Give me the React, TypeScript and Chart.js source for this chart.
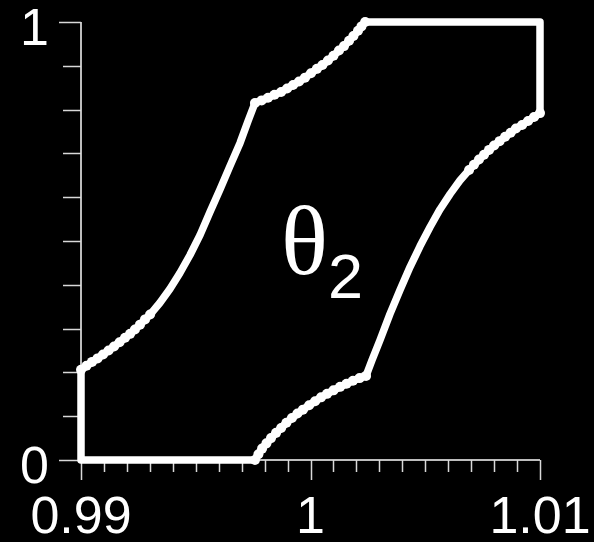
import { useEffect, useRef } from 'react';
import { Chart, registerables } from 'chart.js';

Chart.register(...registerables);

// Axis ranges and ticks
const xMin = 0.99;
const xMax = 1.01;
const yMin = 0;
const yMax = 1;
const xMajorTicks = [0.99, 1, 1.01];
const xTickLabels = ['0.99', '1', '1.01'];
const xMinorStep = 0.001;
const yMajorTicks = [0, 1];
const yTickLabels = ['0', '1'];
const yMinorStep = 0.1;

// Region boundary, traced counter-clockwise from the origin corner
const originX = [0.99];
const originY = [0];

// lower-left flank, densely sampled (beaded)
const lowerLeftX = [0.99, 0.99024, 0.99048, 0.99072, 0.99096, 0.9912, 0.99144, 0.99168, 0.99192, 0.99214, 0.99235, 0.99257, 0.99279, 0.99301];
const lowerLeftY = [0.206, 0.215, 0.224, 0.232, 0.241, 0.25, 0.259, 0.269, 0.279, 0.288, 0.298, 0.309, 0.321, 0.332];

// steep left flank
const leftFlankX = [0.99301, 0.99344, 0.99388, 0.99431, 0.99475, 0.99519, 0.99562, 0.99606, 0.99649, 0.99693, 0.99728, 0.99758];
const leftFlankY = [0.332, 0.359, 0.391, 0.427, 0.468, 0.514, 0.566, 0.618, 0.671, 0.724, 0.774, 0.815];

// upper-left shoulder (beaded)
const upperLeftX = [0.99758, 0.99787, 0.99815, 0.99843, 0.99872, 0.99898, 0.99924, 0.9995, 0.99976, 1.00002, 1.00028, 1.00052, 1.00076, 1.001, 1.00124, 1.00146, 1.00168, 1.00187, 1.00207, 1.00222, 1.00238];
const upperLeftY = [0.815, 0.821, 0.827, 0.834, 0.84, 0.848, 0.856, 0.864, 0.873, 0.883, 0.893, 0.902, 0.912, 0.923, 0.935, 0.945, 0.957, 0.968, 0.98, 0.99, 1];

const topRightX = [1.01];
const topRightY = [1];

// upper-right flank (beaded)
const upperRightX = [1.01, 1.00974, 1.00948, 1.00922, 1.00895, 1.00872, 1.00848, 1.00824, 1.008, 1.00778, 1.00756, 1.00734, 1.00712, 1.00691];
const upperRightY = [0.792, 0.783, 0.774, 0.765, 0.757, 0.747, 0.738, 0.728, 0.718, 0.708, 0.697, 0.686, 0.674, 0.662];

// steep right flank
const rightFlankX = [1.00691, 1.00651, 1.00608, 1.00564, 1.00521, 1.00477, 1.00434, 1.0039, 1.00346, 1.00303, 1.00268, 1.00242];
const rightFlankY = [0.662, 0.638, 0.607, 0.572, 0.532, 0.488, 0.441, 0.388, 0.333, 0.274, 0.228, 0.192];

// lower-right shoulder (beaded)
const lowerRightX = [1.00242, 1.00214, 1.00185, 1.00157, 1.00129, 1.001, 1.00072, 1.00046, 1.0002, 0.99994, 0.99967, 0.99943, 0.99919, 0.99895, 0.99872, 0.9985, 0.99828, 0.99808, 0.99789, 0.99773, 0.99758];
const lowerRightY = [0.192, 0.187, 0.181, 0.174, 0.167, 0.159, 0.151, 0.143, 0.134, 0.125, 0.115, 0.106, 0.096, 0.085, 0.073, 0.062, 0.05, 0.038, 0.026, 0.013, 0];

const regionLabel = '\u03B8';
const regionSubscript = '2';
const regionLabelX = 0.99872;
const regionLabelY = 0.424;

type Pt = { x: number; y: number };
const toPoints = (xs: number[], ys: number[]): Pt[] => xs.map((x, i) => ({ x, y: ys[i] }));

const WIDTH = 594;
const HEIGHT = 542;
const FONT = '"Liberation Sans", Arial, sans-serif';

const axesPlugin = {
  id: 'boxAxes',
  beforeDraw(chart: Chart) {
    const ctx = chart.ctx;
    ctx.save();
    ctx.fillStyle = '#000';
    ctx.fillRect(0, 0, chart.width, chart.height);
    ctx.restore();
  },
  beforeDatasetsDraw(chart: Chart) {
    const ctx = chart.ctx;
    const xs = chart.scales.x;
    const ys = chart.scales.y;
    const { left, right, top, bottom } = chart.chartArea;
    ctx.save();
    // axis lines
    ctx.strokeStyle = '#bdbdbd';
    ctx.lineWidth = 2;
    ctx.beginPath();
    ctx.moveTo(left, top);
    ctx.lineTo(left, bottom);
    ctx.lineTo(right, bottom);
    ctx.stroke();

    // x ticks (minor every 0.001, majors longer)
    ctx.strokeStyle = '#d8d8d8';
    ctx.lineWidth = 1.5;
    const nx = Math.round((xMax - xMin) / xMinorStep);
    for (let i = 0; i <= nx; i++) {
      const v = xMin + i * xMinorStep;
      const isMajor = xMajorTicks.some((m) => Math.abs(m - v) < 1e-9);
      const px = Math.round(xs.getPixelForValue(v)) + 0.5;
      ctx.beginPath();
      ctx.moveTo(px, bottom);
      ctx.lineTo(px, bottom + (isMajor ? 20 : 12));
      ctx.stroke();
    }
    // y ticks (minor every 0.1, majors longer)
    const ny = Math.round((yMax - yMin) / yMinorStep);
    for (let i = 0; i <= ny; i++) {
      const v = yMin + i * yMinorStep;
      const isMajor = yMajorTicks.some((m) => Math.abs(m - v) < 1e-9);
      const py = Math.round(ys.getPixelForValue(v)) + 0.5;
      ctx.beginPath();
      ctx.moveTo(left, py);
      ctx.lineTo(left - (isMajor ? 22 : 18), py);
      ctx.stroke();
    }

    // tick labels
    ctx.fillStyle = '#fff';
    ctx.font = `52px ${FONT}`;
    ctx.textBaseline = 'alphabetic';
    ctx.textAlign = 'center';
    xMajorTicks.forEach((v, i) => {
      ctx.fillText(xTickLabels[i], xs.getPixelForValue(v), bottom + 73);
    });
    ctx.textAlign = 'right';
    yMajorTicks.forEach((v, i) => {
      ctx.fillText(yTickLabels[i], left - 32, ys.getPixelForValue(v) + 23);
    });
    ctx.restore();
  },
  afterDraw(chart: Chart) {
    const ctx = chart.ctx;
    const px = chart.scales.x.getPixelForValue(regionLabelX);
    const py = chart.scales.y.getPixelForValue(regionLabelY);
    ctx.save();
    ctx.fillStyle = '#fff';
    ctx.textBaseline = 'alphabetic';
    ctx.textAlign = 'left';
    ctx.font = '98px "Liberation Serif", "Times New Roman", serif';
    ctx.fillText(regionLabel, px, py);
    const w = ctx.measureText(regionLabel).width;
    ctx.font = `63px ${FONT}`;
    ctx.fillText(regionSubscript, px + w, py + 24);
    ctx.restore();
  },
};

export default function App() {
  const canvasRef = useRef<HTMLCanvasElement | null>(null);

  useEffect(() => {
    document.body.style.margin = '0';
    document.body.style.background = '#000';
    const canvas = canvasRef.current;
    if (!canvas) return;

    const outline: Pt[] = [
      ...toPoints(originX, originY),
      ...toPoints(lowerLeftX, lowerLeftY),
      ...toPoints(leftFlankX, leftFlankY),
      ...toPoints(upperLeftX, upperLeftY),
      ...toPoints(topRightX, topRightY),
      ...toPoints(upperRightX, upperRightY),
      ...toPoints(rightFlankX, rightFlankY),
      ...toPoints(lowerRightX, lowerRightY),
      ...toPoints(originX, originY),
    ];
    const beads: Pt[] = [
      ...toPoints(lowerLeftX, lowerLeftY),
      ...toPoints(upperLeftX, upperLeftY),
      ...toPoints(upperRightX, upperRightY),
      ...toPoints(lowerRightX, lowerRightY),
    ];

    const chart = new Chart(canvas, {
      type: 'scatter',
      data: {
        datasets: [
          {
            data: outline,
            showLine: true,
            borderColor: '#fff',
            borderWidth: 7.5,
            borderJoinStyle: 'round',
            borderCapStyle: 'round',
            pointRadius: 0,
            tension: 0,
            clip: false,
          },
          {
            data: beads,
            showLine: false,
            pointRadius: 5,
            pointBackgroundColor: '#fff',
            pointBorderWidth: 0,
            clip: false,
          },
        ],
      } as any,
      options: {
        animation: false,
        responsive: false,
        devicePixelRatio: 1,
        events: [],
        layout: { padding: { left: 81, right: 54, top: 22, bottom: 82 } },
        plugins: { legend: { display: false }, tooltip: { enabled: false } },
        scales: {
          x: { type: 'linear', min: xMin, max: xMax, display: false },
          y: { type: 'linear', min: yMin, max: yMax, display: false },
        },
      },
      plugins: [axesPlugin],
    });
    return () => chart.destroy();
  }, []);

  return (
    <div style={{ width: WIDTH, height: HEIGHT, background: '#000' }}>
      <canvas ref={canvasRef} width={WIDTH} height={HEIGHT} style={{ display: 'block' }} />
    </div>
  );
}
